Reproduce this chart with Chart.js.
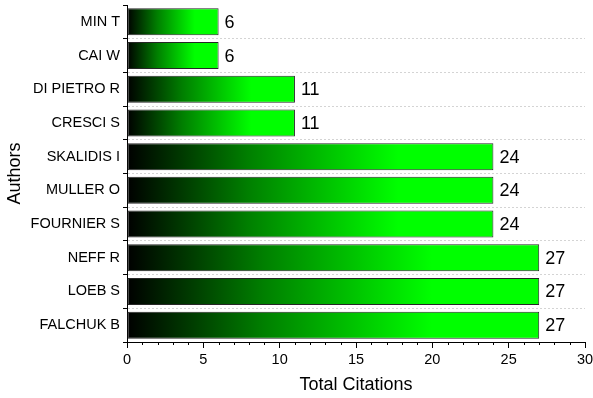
<!DOCTYPE html>
<html>
<head>
<meta charset="utf-8">
<script src="https://cdn.jsdelivr.net/npm/chart.js@4/dist/chart.umd.min.js"></script>
<style>
  html, body { margin: 0; padding: 0; background: #fff; }
  #wrap { width: 593px; height: 398px; }
</style>
</head>
<body>
<div id="wrap"><canvas id="c" width="593" height="398"></canvas></div>
<script>
const authors = ['MIN T', 'CAI W', 'DI PIETRO R', 'CRESCI S', 'SKALIDIS I', 'MULLER O', 'FOURNIER S', 'NEFF R', 'LOEB S', 'FALCHUK B'];
const citations = [6, 6, 11, 11, 24, 24, 24, 27, 27, 27];
const xMin = 0;
const xMax = 30;

const FONT = '"Liberation Sans", Arial, sans-serif';

// Each bar fades from black at zero to bright green towards its own end.
function barGradient(ctx) {
  const chart = ctx.chart;
  if (!chart.chartArea || ctx.type !== 'data') return '#00ff00';
  const xs = chart.scales.x;
  const x0 = xs.getPixelForValue(0);
  const x1 = xs.getPixelForValue(ctx.raw);
  if (!isFinite(x0) || !isFinite(x1) || x1 <= x0) return '#00ff00';
  const g = chart.ctx.createLinearGradient(x0, 0, x1, 0);
  g.addColorStop(0, '#000000');
  g.addColorStop(0.33, '#007f00');
  g.addColorStop(0.74, '#00ff00');
  g.addColorStop(1, '#00ff00');
  return g;
}

// Value text just past the end of each bar.
const valueLabels = {
  id: 'valueLabels',
  afterDatasetsDraw(chart) {
    const c = chart.ctx;
    const meta = chart.getDatasetMeta(0);
    c.save();
    c.font = '18px ' + FONT;
    c.fillStyle = '#000';
    c.textAlign = 'left';
    c.textBaseline = 'middle';
    meta.data.forEach((bar, i) => {
      c.fillText(String(citations[i]), bar.x + 6, bar.y + 1);
    });
    c.restore();
  }
};

// Short minor ticks on the value axis between the labelled ones.
const minorTicks = {
  id: 'minorTicks',
  afterDraw(chart) {
    const xs = chart.scales.x;
    const c = chart.ctx;
    const y = xs.top;
    c.save();
    c.strokeStyle = '#000';
    c.lineWidth = 1;
    c.beginPath();
    for (let v = xMin; v <= xMax; v++) {
      if (v % 5 === 0) continue;
      const px = Math.round(xs.getPixelForValue(v)) + 0.5;
      c.moveTo(px, y);
      c.lineTo(px, y + 3);
    }
    c.stroke();
    c.restore();
  }
};

new Chart(document.getElementById('c'), {
  type: 'bar',
  data: {
    labels: authors,
    datasets: [{
      data: citations,
      backgroundColor: barGradient,
      borderColor: '#262626',
      borderWidth: 1,
      borderSkipped: false,
      categoryPercentage: 1,
      barPercentage: 0.8
    }]
  },
  options: {
    indexAxis: 'y',
    responsive: false,
    animation: false,
    layout: { padding: { top: 0, right: 0, left: 4, bottom: 2 } },
    plugins: {
      legend: { display: false },
      tooltip: { enabled: false }
    },
    scales: {
      x: {
        type: 'linear',
        min: xMin,
        max: xMax,
        afterFit(scale) {
          scale.paddingRight = 8;
        },
        ticks: {
          stepSize: 5,
          color: '#000',
          font: { family: FONT, size: 14.5 },
          padding: 3
        },
        grid: {
          drawOnChartArea: false,
          tickLength: 6,
          tickColor: '#000',
          tickWidth: 1
        },
        border: { display: true, color: '#000', width: 1 },
        title: {
          display: true,
          text: 'Total Citations',
          color: '#000',
          font: { family: FONT, size: 18 },
          padding: { top: 3, bottom: 0 }
        }
      },
      y: {
        type: 'category',
        offset: true,
        afterFit(scale) {
          scale.paddingTop = 5;
          scale.paddingBottom = 0;
        },
        ticks: {
          color: '#000',
          font: { family: FONT, size: 14.5 },
          padding: 3
        },
        grid: {
          offset: true,
          color: (c) => (c.index === 0 ? 'rgba(0,0,0,0)' : '#d4d4d4'),
          lineWidth: 1,
          tickLength: 4,
          tickColor: '#000',
          tickBorderDash: [],
          tickWidth: 1
        },
        border: { display: true, color: '#000', width: 1, dash: [2, 2] },
        title: {
          display: true,
          text: 'Authors',
          color: '#000',
          font: { family: FONT, size: 18 },
          padding: { top: 0, bottom: 2 }
        }
      }
    }
  },
  plugins: [valueLabels, minorTicks]
});
</script>
</body>
</html>
